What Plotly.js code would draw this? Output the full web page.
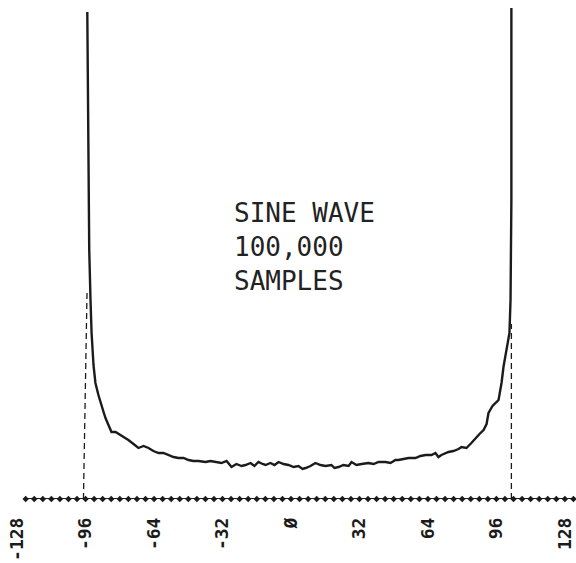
<!DOCTYPE html>
<html>
<head>
<meta charset="utf-8">
<script src="https://cdn.plot.ly/plotly-3.0.1.min.js"></script>
<style>
html,body{margin:0;padding:0;background:#fff;}
#chart{width:576px;height:563px;}
</style>
</head>
<body>
<div id="chart"></div>
<script>
// ADC code (bin) values and sample counts
const binValues = [-95.2, -95.0, -94.7, -94.3, -93.7, -93.2, -92.3, -91.4, -90.0, -89.0,
  -87.6, -86.7, -85.3, -83.9, -82.0, -79.7, -77.8, -76.0, -73.6, -71.3,
  -68.9, -66.6, -64.3, -61.9, -59.6, -57.2, -54.9, -52.6, -50.2, -47.9,
  -45.6, -43.2, -40.0, -37.6, -34.8, -32.5, -30.1, -27.8, -25.5, -23.1,
  -21.3, -18.9, -17.1, -15.2, -13.3, -11.9, -9.6, -7.7, -5.8, -3.5,
  -1.2, 1.2, 3.5, 5.4, 6.8, 9.1, 11.4, 13.8, 16.1, 18.9,
  20.3, 22.2, 24.5, 26.9, 28.3, 30.6, 33.0, 36.2, 38.6, 40.9,
  44.2, 46.5, 48.8, 50.2, 52.6, 54.9, 58.2, 60.5, 62.9, 65.7,
  67.5, 68.9, 70.3, 72.2, 73.6, 75.9, 78.3, 79.7, 82.0, 84.3,
  86.2, 88.1, 90.0, 91.4, 92.3, 94.2, 97.0, 98.4, 99.3, 100.7,
  102.1, 102.6, 103.0, 103.0];
const sampleCounts = [487, 420, 330, 250, 199, 166, 134, 116, 104, 96,
  87, 81, 74, 67, 67, 64, 62, 59, 55, 51,
  53, 51, 48, 46, 46, 44, 42, 41, 41, 39,
  38, 38, 37, 38, 37, 36, 38, 32, 35, 33,
  34, 36, 33, 37, 35, 34, 36, 34, 37, 35,
  34, 32, 33, 30, 31, 33, 36, 34, 33, 34,
  31, 32, 34, 33, 37, 34, 35, 36, 35, 37,
  37, 36, 39, 39, 40, 41, 41, 43, 44, 44,
  46, 42, 44, 46, 47, 48, 50, 52, 51, 56,
  61, 65, 69, 75, 86, 93, 99, 116, 132, 149,
  166, 199, 299, 491];

// faint (dashed) drop lines at the two ends of the range
const leftEdgeX = [-97.0, -95.3];
const leftEdgeY = [0, 210];
const rightEdgeX = [103.0, 103.0];
const rightEdgeY = [0, 175];

// axis tick marks (diamonds) and labelled ticks
const axisTickValues = [-124, -120, -116, -112, -108, -104, -100, -96, -92, -88, -84, -80,
  -76, -72, -68, -64, -60, -56, -52, -48, -44, -40, -36, -32, -28, -24, -20, -16, -12,
  -8, -4, 0, 4, 8, 12, 16, 20, 24, 28, 32, 36, 40, 44, 48, 52, 56, 60, 64, 68, 72, 76,
  80, 84, 88, 92, 96, 100, 104, 108, 112, 116, 120, 124, 128, 132];
const axisBaseline = axisTickValues.map(() => 0);
const labelValues = [-128, -96, -64, -32, 0, 32, 64, 96, 128];
const labelTexts = ['-128', '-96', '-64', '-32', 'Ø', '32', '64', '96', '128'];

const ink = '#1b1b1b';

const traces = [
  {
    x: axisTickValues, y: axisBaseline, type: 'scatter', mode: 'lines+markers',
    line: {color: ink, width: 2},
    marker: {symbol: 'diamond', size: 5, color: ink},
    hoverinfo: 'skip', cliponaxis: false, showlegend: false
  },
  {
    x: leftEdgeX, y: leftEdgeY, type: 'scatter', mode: 'lines',
    line: {color: ink, width: 1.3, dash: '6px,4px'}, showlegend: false, cliponaxis: false
  },
  {
    x: rightEdgeX, y: rightEdgeY, type: 'scatter', mode: 'lines',
    line: {color: ink, width: 1.3, dash: '6px,4px'}, showlegend: false, cliponaxis: false
  },
  {
    x: binValues, y: sampleCounts, type: 'scatter', mode: 'lines',
    line: {color: ink, width: 2.4}, showlegend: false
  }
];

const layout = {
  width: 576, height: 563,
  margin: {l: 0, r: 0, t: 0, b: 64, pad: 0},
  paper_bgcolor: '#ffffff', plot_bgcolor: '#ffffff',
  showlegend: false,
  xaxis: {
    range: [-136.0, 133.2],
    showgrid: false, zeroline: false, showline: false,
    ticks: '', tickmode: 'array', tickvals: labelValues, ticktext: labelTexts,
    tickangle: -90, ticklabelstandoff: 14, ticklabeloverflow: 'allow',
    tickfont: {family: 'DejaVu Sans Mono', size: 18, color: ink, weight: 'bold'},
    fixedrange: true
  },
  yaxis: {
    range: [0, 499], visible: false, showgrid: false, zeroline: false, fixedrange: true
  },
  annotations: [{
    xref: 'paper', yref: 'paper', x: 0.402, y: 0.505,
    xanchor: 'left', yanchor: 'middle', align: 'left', showarrow: false,
    text: 'SINE WAVE<br>100,000<br>SAMPLES',
    font: {family: 'DejaVu Sans Mono', size: 26, color: '#222'}
  }]
};

Plotly.newPlot('chart', traces, layout, {displayModeBar: false, staticPlot: true});
</script>
</body>
</html>
